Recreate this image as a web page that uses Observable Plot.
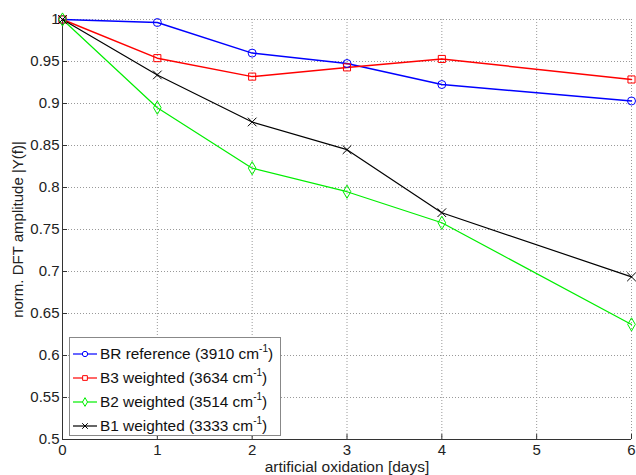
<!DOCTYPE html>
<html><head><meta charset="utf-8">
<script src="https://cdn.jsdelivr.net/npm/d3@7"></script>
<script src="https://cdn.jsdelivr.net/npm/@observablehq/plot@0.6"></script>
<style>
body{margin:0;background:#fff;}
#wrap{position:relative;width:636px;height:475px;font-family:"Liberation Sans",Arial,sans-serif;}
#legend{position:absolute;left:69px;top:337px;width:212px;height:99px;border:1px solid #888;background:#fff;box-sizing:border-box;font-size:15.4px;color:#111;}
.row{position:absolute;left:0;height:22px;display:flex;align-items:center;}
.row svg{margin-left:3px;margin-right:3px;}
sup{font-size:10px;vertical-align:7px;line-height:0;}
</style></head><body><div id="wrap"></div>
<script>
const days = [0, 1, 2, 3, 4, 6];
const seriesNames = ["BR reference", "B3 weighted", "B2 weighted", "B1 weighted"];
const wavenumbers = ["3910", "3634", "3514", "3333"];
const brReference = [1.000, 0.9964, 0.960, 0.9476, 0.9226, 0.903];
const b3Weighted  = [1.000, 0.954, 0.932, 0.943, 0.953, 0.9286];
const b2Weighted  = [1.000, 0.895, 0.823, 0.795, 0.758, 0.637];
const b1Weighted  = [1.000, 0.934, 0.878, 0.845, 0.770, 0.6936];
const colors = ["#0000ff", "#ff0000", "#00ee00", "#000000"];
const symbols = ["circle", "square", "diamond", "times"];
const widths = [1.5, 1.5, 1.2, 1.2];
const xTicks = [0, 1, 2, 3, 4, 5, 6];
const yTicks = [0.5, 0.55, 0.6, 0.65, 0.7, 0.75, 0.8, 0.85, 0.9, 0.95, 1];
const xLabel = "artificial oxidation [days]";
const yLabel = "norm. DFT amplitude |Y(f)|";

const allSeries = [brReference, b3Weighted, b2Weighted, b1Weighted];
const rows = [];
allSeries.forEach((vals, i) => vals.forEach((v, j) => rows.push({series: seriesNames[i], day: days[j], value: v, idx: i})));

const lineMarks = seriesNames.map((name, i) =>
  Plot.line(rows.filter(d => d.series === name), {x: "day", y: "value", stroke: colors[i], strokeWidth: widths[i]}));
const dotMarks = seriesNames.map((name, i) =>
  Plot.dot(rows.filter(d => d.series === name), {x: "day", y: "value", stroke: colors[i], symbol: () => symbols[i], r: 4, fill: "none", strokeWidth: 1}));

const chart = Plot.plot({
  width: 636, height: 475,
  marginLeft: 62, marginRight: 5, marginTop: 19, marginBottom: 36,
  style: {fontFamily: "'Liberation Sans', Arial, sans-serif", fontSize: "15px", color: "#222", background: "#fff"},
  x: {domain: [0, 6]},
  y: {domain: [0.5, 1]},
  marks: [
    Plot.gridX(xTicks, {stroke: "#999", strokeOpacity: 1, strokeDasharray: "1,2"}),
    Plot.gridY(yTicks, {stroke: "#999", strokeOpacity: 1, strokeDasharray: "1,2"}),
    Plot.axisX(xTicks, {tickSize: -5, tickPadding: 10, fontSize: 15, label: null, stroke: "#333"}),
    Plot.axisY(yTicks, {tickSize: -5, tickPadding: 8, fontSize: 15, tickFormat: d3.format("~g"), label: null, stroke: "#333"}),
    Plot.ruleX([0], {stroke: "#333"}),
    Plot.ruleY([0.5], {stroke: "#333"}),
    ...lineMarks,
    ...dotMarks,
    Plot.text([xLabel], {frameAnchor: "bottom", dy: 32, fontSize: 15.5, fill: "#222"}),
    Plot.text([yLabel], {frameAnchor: "left", textAnchor: "middle", dx: -44, rotate: -90, fontSize: 15, fill: "#222"})
  ]
});
document.getElementById("wrap").appendChild(chart);

const legend = document.createElement("div");
legend.id = "legend";
const ns = "http://www.w3.org/2000/svg";
const symMap = {circle: d3.symbolCircle, square: d3.symbolSquare, diamond: d3.symbolDiamond, times: d3.symbolTimes};
seriesNames.forEach((name, i) => {
  const row = document.createElement("div");
  row.className = "row";
  row.style.top = (5 + i * 24) + "px";
  const s = document.createElementNS(ns, "svg");
  s.setAttribute("width", 24); s.setAttribute("height", 14);
  const l = document.createElementNS(ns, "line");
  l.setAttribute("x1", 0); l.setAttribute("x2", 24); l.setAttribute("y1", 7); l.setAttribute("y2", 7);
  l.setAttribute("stroke", colors[i]); l.setAttribute("stroke-width", 1.2);
  s.appendChild(l);
  const p = document.createElementNS(ns, "path");
  p.setAttribute("d", d3.symbol(symMap[symbols[i]], 22)());
  p.setAttribute("transform", "translate(12,7)");
  p.setAttribute("fill", symbols[i] === "times" ? "none" : "#fff");
  p.setAttribute("stroke", colors[i]);
  s.appendChild(p);
  row.appendChild(s);
  const t = document.createElement("span");
  t.innerHTML = name + " (" + wavenumbers[i] + " cm<sup>-1</sup>)";
  row.appendChild(t);
  legend.appendChild(row);
});
document.getElementById("wrap").appendChild(legend);
</script></body></html>
